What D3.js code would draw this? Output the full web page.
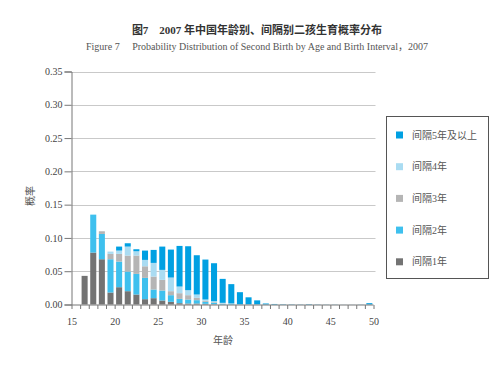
<!DOCTYPE html>
<html><head><meta charset="utf-8">
<script src="https://cdn.jsdelivr.net/npm/d3@7"></script>
<style>
html,body{margin:0;padding:0;background:#fff;}
svg{display:block;}
</style></head>
<body>
<svg id="chart" width="500" height="365"></svg>
<script>
// ---- data ----
const ages = d3.range(16, 50);
const interval1 = [0.043,0.078,0.068,0.018,0.026,0.020,0.015,0.008,0.0095,0.006,0.004,0.002,0.0015,0.0015,0.001,0.0005,0,0,0,0,0,0,0,0,0,0,0,0,0,0,0,0,0,0];
const interval2 = [0,0.057,0.038,0.050,0.0385,0.0295,0.031,0.032,0.013,0.015,0.010,0.0065,0.006,0.005,0.003,0.002,0.001,0.0008,0.0005,0.0003,0.0002,0,0,0,0,0,0,0,0,0,0,0,0,0];
const interval3 = [0,0,0.004,0.008,0.0115,0.024,0.0275,0.0174,0.0195,0.016,0.006,0.0085,0.0065,0.0035,0.0015,0.001,0.0005,0.0003,0,0,0,0,0,0,0,0,0,0,0,0,0,0,0,0];
const interval4 = [0,0,0,0.0035,0.005,0.0135,0.0065,0.0096,0.0205,0.015,0.0205,0.010,0.0075,0.005,0.002,0.0015,0.001,0.0005,0,0,0,0,0,0,0,0,0,0,0,0,0,0,0,0];
const interval5 = [0,0,0,0,0.006,0.005,0.003,0.014,0.0195,0.035,0.042,0.061,0.066,0.059,0.060,0.057,0.036,0.029,0.018,0.0105,0.006,0.0015,0.0008,0.0005,0.0004,0.0003,0.0006,0.0003,0.0002,0.0002,0.0001,0.0001,0.0002,0.002];
const seriesNames = ["间隔1年","间隔2年","间隔3年","间隔4年","间隔5年及以上"];
const seriesColors = ["#737373","#3ec0ee","#b5b5b5","#aadcf2","#00a0e2"];
const yTicks = [0,0.05,0.10,0.15,0.20,0.25,0.30,0.35];
const xTicks = [15,20,25,30,35,40,45,50];
const titleCn = "图7　2007 年中国年龄别、间隔别二孩生育概率分布";
const titleEn = "Figure 7　 Probability Distribution of Second Birth by Age and Birth Interval，2007";

// ---- build ----
const table = ages.map((a,i)=>({age:a, s0:interval1[i], s1:interval2[i], s2:interval3[i], s3:interval4[i], s4:interval5[i]}));
const keys = ["s0","s1","s2","s3","s4"];
const stacked = d3.stack().keys(keys)(table);

const svg = d3.select("#chart");
const x = d3.scaleLinear().domain([15,50]).range([71.5,373.5]);
const y = d3.scaleLinear().domain([0,0.35]).range([304.5,71.5]);
const step = x(16)-x(15);

const serif = "'Liberation Serif','Times New Roman','Noto Sans CJK SC',serif";

// gridlines
svg.append("g").selectAll("line").data(yTicks.slice(1)).join("line")
  .attr("x1", x(15)).attr("x2", x(50)+2)
  .attr("y1", d=>Math.round(y(d))+0.5).attr("y2", d=>Math.round(y(d))+0.5)
  .attr("stroke","#c9c9c9").attr("stroke-width",1);

// bars
svg.append("g").selectAll("g").data(stacked).join("g")
  .attr("fill",(d,i)=>seriesColors[i])
  .selectAll("rect").data(d=>d).join("rect")
  .attr("x", d=>x(d.data.age)+step*0.17)
  .attr("width", step*0.7)
  .attr("y", d=>y(d[1]))
  .attr("height", d=>Math.max(0, y(d[0])-y(d[1])));

// y axis
const yAxis = d3.axisLeft(y).tickValues(yTicks).tickFormat(d3.format(".2f")).tickSize(7).tickPadding(2);
const gy = svg.append("g").attr("transform",`translate(${x(15)},0)`).call(yAxis);
gy.select(".domain").attr("stroke","#777");
gy.selectAll(".tick line").attr("stroke","#777");
gy.selectAll("text").attr("font-family",serif).attr("font-size",10).attr("fill","#444");

// x axis
const xAxis = d3.axisBottom(x).tickValues(d3.range(15,51)).tickFormat(d=>xTicks.includes(d)?d:"").tickSize(4).tickPadding(9);
const gx = svg.append("g").attr("transform",`translate(0,${y(0)+0.5})`).call(xAxis);
gx.select(".domain").attr("stroke","#777").attr("d",`M${x(15)},0H${x(50)}`);
gx.selectAll(".tick line").attr("stroke","#777");
gx.selectAll("text").attr("font-family",serif).attr("font-size",10).attr("fill","#444");

// axis titles
svg.append("text").attr("x",223).attr("y",344).attr("text-anchor","middle")
  .attr("font-family","'Noto Sans CJK SC',sans-serif").attr("font-size",10).attr("fill","#555").text("年龄");
svg.append("text").attr("transform","translate(34,196) rotate(-90)").attr("text-anchor","middle")
  .attr("font-family","'Noto Sans CJK SC',sans-serif").attr("font-size",10).attr("fill","#555").text("概率");

// titles
svg.append("text").attr("x",257).attr("y",34).attr("text-anchor","middle")
  .attr("font-family","'Liberation Serif','Noto Sans CJK SC',serif").attr("font-weight","bold")
  .attr("font-size",11).attr("fill","#333").text(titleCn);
svg.append("text").attr("x",257).attr("y",50).attr("text-anchor","middle")
  .attr("font-family",serif).attr("font-size",10).attr("fill","#555").text(titleEn);

// legend
const lg = svg.append("g");
lg.append("rect").attr("x",386.5).attr("y",116.5).attr("width",102).attr("height",162)
  .attr("fill","#fff").attr("stroke","#555").attr("stroke-width",1);
const order = [4,3,2,1,0];
order.forEach((si,k)=>{
  const cy = 135 + k*31.7;
  lg.append("rect").attr("x",396).attr("y",cy-3.5).attr("width",7).attr("height",7).attr("fill",seriesColors[si]);
  lg.append("text").attr("x",412).attr("y",cy+3.5)
    .attr("font-family","'Liberation Serif','Noto Sans CJK SC',serif").attr("font-size",10).attr("fill","#555")
    .text(seriesNames[si]);
});
</script>
</body></html>
